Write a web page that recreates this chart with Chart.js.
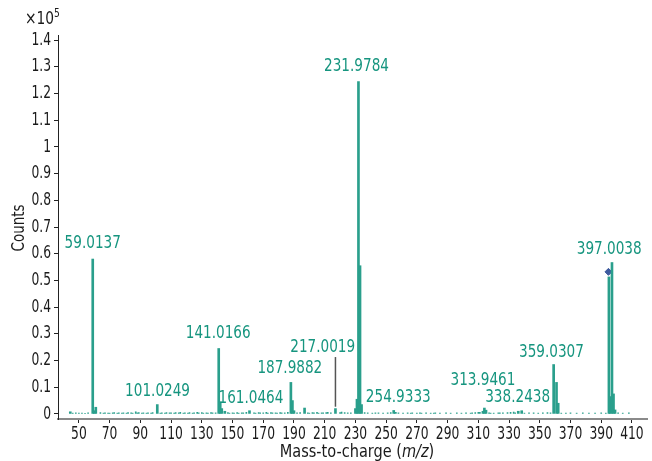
<!DOCTYPE html>
<html>
<head>
<meta charset="utf-8">
<script src="https://cdn.jsdelivr.net/npm/chart.js@4/dist/chart.umd.min.js"></script>
<style>
  html, body { margin: 0; padding: 0; background: #fff; }
  #wrap { width: 652px; height: 461px; }
</style>
</head>
<body>
<div id="wrap"><canvas id="spectrum-chart"></canvas></div>
<script>
// main peaks (m/z, counts x10^5)
var peakMz = [44.4, 59.0137, 60.0, 61.0, 101.0249, 141.0166, 142.0, 143.0, 145.0, 161.0464, 187.9882, 189.0, 190.0, 196.9,
  217.0019, 230.0, 231.0, 231.9784, 233.0, 234.0, 254.9333, 256.0, 313.0, 313.9461, 315.0, 336.0, 338.2438,
  359.0307, 360.9, 362.0, 395.0, 395.8, 397.0038, 398.0, 399.0];
var peakCounts = [0.008, 0.58, 0.012, 0.025, 0.035, 0.245, 0.045, 0.02, 0.01, 0.012, 0.118, 0.05, 0.012, 0.022,
  0.02, 0.02, 0.055, 1.245, 0.555, 0.035, 0.013, 0.006, 0.01, 0.022, 0.014, 0.01, 0.012,
  0.185, 0.118, 0.04, 0.513, 0.065, 0.567, 0.075, 0.015];

// baseline noise
var noiseMz = [46, 48, 50, 52, 54, 56, 64, 66, 67, 69, 70, 72, 73, 75, 76, 78, 79, 81, 82, 84, 85, 87, 88, 89, 91,
  92, 94, 95, 97, 98, 103, 104, 106, 107, 109, 110, 112, 113, 115, 116, 118, 119, 121, 122, 124, 125, 127, 128,
  130, 131, 133, 134, 136, 137, 139, 147, 148, 150, 151, 153, 154, 156, 157, 159, 164, 165, 167, 168, 170, 172,
  173, 175, 176, 178, 179, 181, 182, 184, 186, 192, 194, 199, 200, 202, 203, 205, 206, 208, 209, 211, 212, 214,
  220, 221, 223, 225, 227, 236, 238, 241, 243, 245, 248, 251, 253, 258, 261, 264, 266, 267, 270, 272, 273, 276,
  279, 281, 282, 285, 289, 292, 296, 299, 302, 305, 306, 308, 310, 311, 317, 318, 320, 323, 324, 326, 329, 331,
  333, 334, 340, 343, 346, 349, 352, 355, 357, 364, 367, 370, 374, 378, 382, 386, 390, 393, 401, 404, 408, 412];
var noiseCounts = [0.003, 0.004, 0.003, 0.003, 0.002, 0.004, 0.005, 0.003, 0.004, 0.003, 0.003, 0.004, 0.005,
  0.003, 0.004, 0.003, 0.004, 0.003, 0.005, 0.004, 0.003, 0.008, 0.004, 0.005, 0.003, 0.004, 0.003, 0.004, 0.003,
  0.005, 0.003, 0.004, 0.003, 0.005, 0.004, 0.004, 0.003, 0.005, 0.004, 0.006, 0.003, 0.004, 0.003, 0.005, 0.003,
  0.004, 0.006, 0.004, 0.005, 0.003, 0.004, 0.003, 0.005, 0.004, 0.004, 0.005, 0.003, 0.004, 0.003, 0.005, 0.003,
  0.004, 0.004, 0.006, 0.004, 0.003, 0.005, 0.004, 0.004, 0.006, 0.003, 0.005, 0.004, 0.004, 0.003, 0.005, 0.004,
  0.004, 0.006, 0.004, 0.005, 0.004, 0.003, 0.005, 0.004, 0.006, 0.003, 0.004, 0.004, 0.005, 0.006, 0.004, 0.005,
  0.007, 0.005, 0.004, 0.004, 0.005, 0.004, 0.003, 0.004, 0.004, 0.003, 0.004, 0.005, 0.004, 0.003, 0.004, 0.003,
  0.004, 0.003, 0.004, 0.003, 0.004, 0.003, 0.003, 0.004, 0.003, 0.004, 0.003, 0.004, 0.003, 0.004, 0.003, 0.004,
  0.005, 0.006, 0.006, 0.004, 0.003, 0.003, 0.004, 0.004, 0.004, 0.005, 0.006, 0.007, 0.004, 0.003, 0.004, 0.004,
  0.003, 0.004, 0.005, 0.004, 0.003, 0.003, 0.004, 0.003, 0.004, 0.003, 0.003, 0.004, 0.003, 0.004, 0.003, 0.004];

// peak annotations: text and where it sits (m/z, counts x10^5)
var labelText = ['59.0137', '101.0249', '141.0166', '161.0464', '187.9882', '217.0019', '231.9784', '254.9333',
  '313.9461', '338.2438', '359.0307', '397.0038'];
var labelMz = [59.0, 101.2, 140.7, 162.0, 187.3, 208.7, 230.7, 257.9, 313.0, 335.6, 357.6, 395.2];
var labelCounts = [0.64, 0.086, 0.303, 0.06, 0.169, 0.251, 1.30, 0.064, 0.127, 0.064, 0.232, 0.618];

// marker line at 217.0019 and precursor diamond
var markerLineMz = [217.0, 217.0];
var markerLineCounts = [0.027, 0.213];
var diamondMz = [394.7];
var diamondCounts = [0.532];

var xTicks = [50, 70, 90, 110, 130, 150, 170, 190, 210, 230, 250, 270, 290, 310, 330, 350, 370, 390, 410];
var yTicks = [0, 0.1, 0.2, 0.3, 0.4, 0.5, 0.6, 0.7, 0.8, 0.9, 1, 1.1, 1.2, 1.3, 1.4];

var FONT = "'DejaVu Sans Condensed', 'DejaVu Sans', sans-serif";
var TEAL = '#16957f';
var BAR = '#2a9f8c';

function pts(xs, ys) {
  var out = [];
  for (var i = 0; i < xs.length; i++) out.push({ x: xs[i], y: ys[i] });
  return out;
}

// narrow text: the reference uses a condensed face
function narrowText(c, txt, x, y, align, sx) {
  c.save();
  c.translate(x, y);
  c.scale(sx, 1);
  c.textAlign = align;
  c.fillText(txt, 0, 0);
  c.restore();
}

var textPlugin = {
  id: 'spectrumText',
  afterDraw: function (chart) {
    var c = chart.ctx;
    var xs = chart.scales.x, ys = chart.scales.y;
    c.save();
    c.textBaseline = 'middle';
    // tick labels
    c.fillStyle = '#1a1a1a';
    c.font = '18px ' + FONT;
    for (var i = 0; i < xTicks.length; i++) {
      narrowText(c, String(xTicks[i]), xs.getPixelForValue(xTicks[i]), 434, 'center', 0.76);
    }
    for (var j = 0; j < yTicks.length; j++) {
      narrowText(c, String(yTicks[j]), 51, ys.getPixelForValue(yTicks[j]), 'right', 0.76);
    }
    // peak labels
    c.fillStyle = TEAL;
    c.font = '18px ' + FONT;
    for (var k = 0; k < labelText.length; k++) {
      narrowText(c, labelText[k], xs.getPixelForValue(labelMz[k]), ys.getPixelForValue(labelCounts[k]), 'center', 0.84);
    }
    // exponent
    c.fillStyle = '#1a1a1a';
    c.textBaseline = 'alphabetic';
    c.font = '18px ' + FONT;
    narrowText(c, '\u00d710', 25, 24, 'left', 0.85);
    var w = c.measureText('\u00d710').width * 0.85;
    c.font = '12px ' + FONT;
    narrowText(c, '5', 25 + w, 17, 'left', 0.85);
    // x title with italic m/z
    var sx = 0.95;
    c.font = '17px ' + FONT;
    var p1 = 'Mass-to-charge (', p3 = ')';
    var w1 = c.measureText(p1).width * sx, w3 = c.measureText(p3).width * sx;
    c.font = 'italic 17px ' + FONT;
    var p2 = 'm/z';
    var w2 = c.measureText(p2).width * sx;
    var x0 = 357 - (w1 + w2 + w3) / 2;
    c.font = '17px ' + FONT;
    narrowText(c, p1, x0, 457, 'left', sx);
    c.font = 'italic 17px ' + FONT;
    narrowText(c, p2, x0 + w1, 457, 'left', sx);
    c.font = '17px ' + FONT;
    narrowText(c, p3, x0 + w1 + w2, 457, 'left', sx);
    // y title
    c.translate(24, 228);
    c.rotate(-Math.PI / 2);
    narrowText(c, 'Counts', 0, 0, 'center', 0.88);
    c.restore();
  }
};

document.addEventListener('DOMContentLoaded', function () {
  var ctx = document.getElementById('spectrum-chart').getContext('2d');
  var myChart = new Chart(ctx, {
    type: 'bar',
    data: {
      datasets: [{
        label: 'noise',
        data: pts(noiseMz, noiseCounts),
        backgroundColor: BAR,
        barThickness: 1,
        grouped: false
      }, {
        label: 'peaks',
        data: pts(peakMz, peakCounts),
        backgroundColor: BAR,
        barThickness: 2,
        grouped: false
      }, {
        type: 'line',
        label: 'marker',
        data: pts(markerLineMz, markerLineCounts),
        borderColor: '#555',
        borderWidth: 1.5,
        pointRadius: 0
      }, {
        type: 'scatter',
        label: 'precursor',
        data: pts(diamondMz, diamondCounts),
        pointStyle: 'rectRot',
        pointRadius: 3.5,
        backgroundColor: '#3d5a9e',
        borderColor: '#3d5a9e'
      }]
    },
    options: {
      responsive: true,
      maintainAspectRatio: false,
      animation: false,
      layout: { padding: { top: 35, right: 2, left: 0, bottom: 0 } },
      plugins: {
        legend: { display: false },
        tooltip: { enabled: false }
      },
      scales: {
        x: {
          type: 'linear',
          min: 36.4,
          max: 419.8,
          offset: false,
          afterBuildTicks: function (scale) {
            scale.ticks = xTicks.map(function (v) { return { value: v }; });
          },
          afterFit: function (scale) { scale.height = 42; },
          grid: { offset: false, drawOnChartArea: false, drawTicks: true, tickLength: 4, color: '#222' },
          border: { display: true, color: '#8a8a8a', width: 2 },
          ticks: { display: false }
        },
        y: {
          min: -0.019,
          max: 1.419,
          afterBuildTicks: function (scale) {
            scale.ticks = yTicks.map(function (v) { return { value: v }; });
          },
          afterFit: function (scale) { scale.width = 58; },
          grid: { drawOnChartArea: false, drawTicks: true, tickLength: 4, color: '#222' },
          border: { display: true, color: '#222', width: 1 },
          ticks: { display: false }
        }
      }
    },
    plugins: [textPlugin]
  });
});
</script>
</body>
</html>
